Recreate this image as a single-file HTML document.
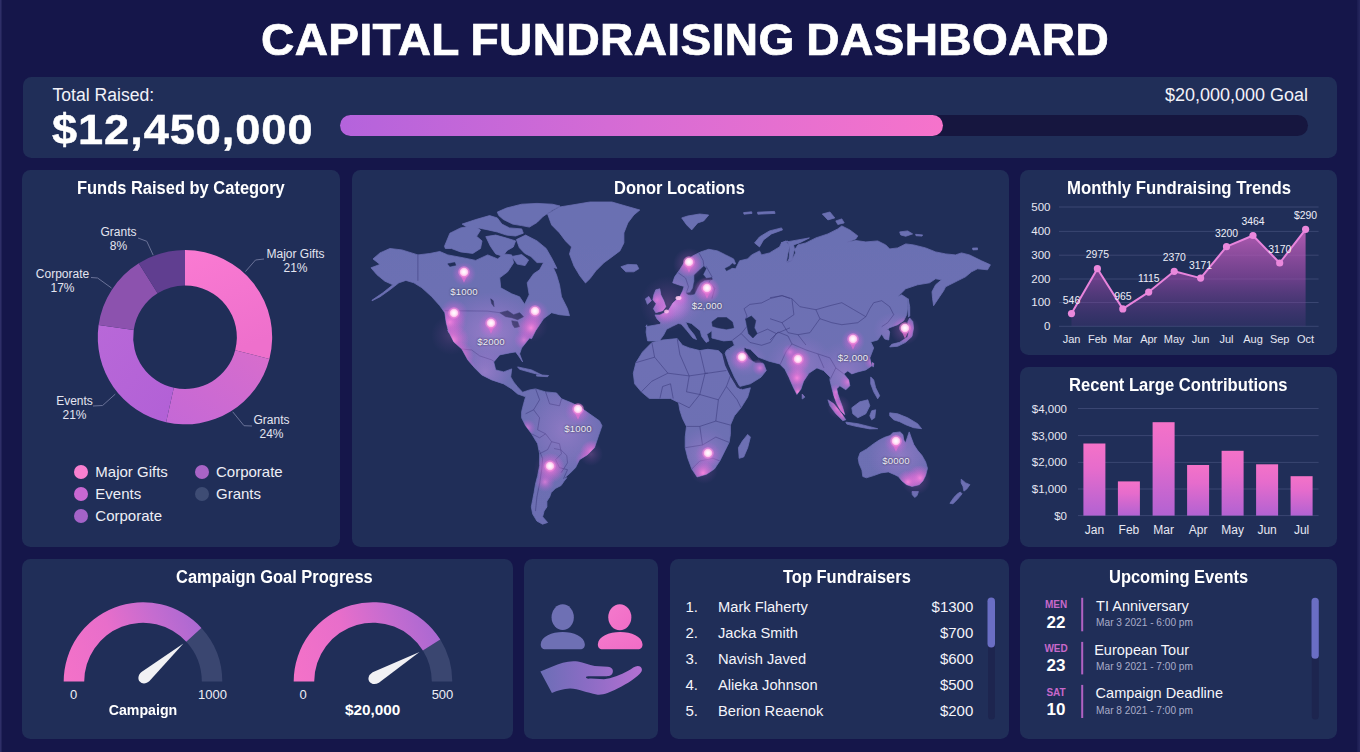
<!DOCTYPE html>
<html><head><meta charset="utf-8">
<style>
*{margin:0;padding:0;box-sizing:border-box}
html,body{width:1360px;height:752px;overflow:hidden;background:#15164a;font-family:"Liberation Sans",sans-serif;color:#fff}
.p{position:absolute;background:#202e58;border-radius:8.5px}
.t{position:absolute;white-space:nowrap;line-height:1}
.h{position:absolute;white-space:nowrap;line-height:1;font-weight:bold;font-size:18px;color:#fff;transform-origin:0 0;transform:scaleX(.915)}
svg{position:absolute;left:0;top:0;overflow:visible}
</style></head><body>
<div id="edgeL" style="position:absolute;left:0;top:0;width:2px;height:752px;background:linear-gradient(90deg,#34346e,#1c1d52)"></div><div style="position:absolute;right:0;top:0;width:3px;height:752px;background:linear-gradient(90deg,#1a1b50,#26275e)"></div>
<!-- title -->
<div class="t" id="title" style="left:260.5px;top:17.5px;font-size:44px;font-weight:bold;letter-spacing:0.36px;word-spacing:-1.5px;-webkit-text-stroke:0.7px #fff;transform-origin:0 0;transform:scaleX(1.047)">CAPITAL FUNDRAISING DASHBOARD</div>

<!-- top bar -->
<div class="p" style="left:22.5px;top:77px;width:1314.5px;height:80.5px"></div>
<div class="t" style="left:52.5px;top:86.5px;font-size:17.6px;color:#f2f2f8">Total Raised:</div>
<div class="t" id="big" style="left:51.5px;top:108px;font-size:43px;font-weight:bold;letter-spacing:0.9px;-webkit-text-stroke:0.5px #fff;transform-origin:0 0;transform:scaleX(1.05)">$12,450,000</div>
<div class="t" id="goal" style="right:52px;top:86px;font-size:18px;color:#f2f2f8">$20,000,000 Goal</div>
<div style="position:absolute;left:340px;top:115px;width:968px;height:21px;border-radius:11px;background:#16163f"></div>
<div style="position:absolute;left:340px;top:115px;width:603px;height:21px;border-radius:11px;background:linear-gradient(90deg,#b463dc 0%,#d86cd4 50%,#f673cb 100%)"></div>

<!-- panels -->
<div class="p" id="p-funds" style="left:22px;top:170px;width:318px;height:377px"></div>
<div class="p" id="p-map" style="left:352px;top:170px;width:657px;height:377px"></div>
<div class="p" id="p-month" style="left:1020px;top:170px;width:317px;height:185px"></div>
<div class="p" id="p-recent" style="left:1020px;top:367px;width:317px;height:180px"></div>
<div class="p" id="p-camp" style="left:22px;top:559px;width:491px;height:180px"></div>
<div class="p" id="p-icon" style="left:524px;top:559px;width:134px;height:180px"></div>
<div class="p" id="p-top" style="left:670px;top:559px;width:339px;height:180px"></div>
<div class="p" id="p-up" style="left:1020px;top:559px;width:317px;height:180px"></div>

<!-- SECTION:FUNDS -->
<svg width="1360" height="752" viewBox="0 0 1360 752">
<defs><linearGradient id="gMaj" x1="0" y1="0" x2="0.3" y2="1"><stop offset="0" stop-color="#fa7ad2"/><stop offset="1" stop-color="#ee70cc"/></linearGradient><linearGradient id="gGr" x1="1" y1="0" x2="0" y2="1"><stop offset="0" stop-color="#d86dcc"/><stop offset="1" stop-color="#c468d6"/></linearGradient><linearGradient id="gEv" x1="0" y1="0" x2="1" y2="1"><stop offset="0" stop-color="#b868d8"/><stop offset="1" stop-color="#b260d6"/></linearGradient></defs>
<path d="M185.0 250.0A87.2 87.2 0 0 1 269.4 359.0L235.2 350.2A51.8 51.8 0 0 0 185.0 285.4Z" fill="url(#gMaj)"/>
<path d="M269.4 359.0A87.2 87.2 0 0 1 166.1 422.3L173.8 387.8A51.8 51.8 0 0 0 235.2 350.2Z" fill="url(#gGr)"/>
<path d="M166.1 422.3A87.2 87.2 0 0 1 98.6 325.1L133.7 330.0A51.8 51.8 0 0 0 173.8 387.8Z" fill="url(#gEv)"/>
<path d="M98.6 325.1A87.2 87.2 0 0 1 138.8 263.3L157.6 293.3A51.8 51.8 0 0 0 133.7 330.0Z" fill="#8c52ae"/>
<path d="M138.8 263.3A87.2 87.2 0 0 1 185.0 250.0L185.0 285.4A51.8 51.8 0 0 0 157.6 293.3Z" fill="#603e90"/>
<path d="M245.4 271.6L255.5 260.0L264.0 259.0" fill="none" stroke="#6a7298" stroke-width="1"/>
<path d="M232.7 411.8L244.0 425.7L252.0 426.0" fill="none" stroke="#6a7298" stroke-width="1"/>
<path d="M115.3 394.1L102.6 405.5L93.0 406.0" fill="none" stroke="#6a7298" stroke-width="1"/>
<path d="M111.5 288.0L97.6 278.0L91.0 277.5" fill="none" stroke="#6a7298" stroke-width="1"/>
<path d="M153.2 255.2L146.8 241.3L138.0 238.0" fill="none" stroke="#6a7298" stroke-width="1"/>
</svg>
<style>.lb{font-size:12px;color:#e4e5f0;text-align:center}.lg{font-size:15px;color:#eeeef6}.dot{position:absolute;width:14px;height:14px;border-radius:50%}</style>
<div class="t lb" style="left:78.5px;top:226px;width:80px">Grants</div><div class="t lb" style="left:78.5px;top:240px;width:80px">8%</div>
<div class="t lb" style="left:255.5px;top:248px;width:80px">Major Gifts</div><div class="t lb" style="left:255.5px;top:262px;width:80px">21%</div>
<div class="t lb" style="left:22.5px;top:268px;width:80px">Corporate</div><div class="t lb" style="left:22.5px;top:282px;width:80px">17%</div>
<div class="t lb" style="left:34.5px;top:394.5px;width:80px">Events</div><div class="t lb" style="left:34.5px;top:408.5px;width:80px">21%</div>
<div class="t lb" style="left:231.5px;top:414px;width:80px">Grants</div><div class="t lb" style="left:231.5px;top:428px;width:80px">24%</div>
<div class="dot" style="left:74.2px;top:464.8px;background:#f880d0"></div><div class="t lg" style="left:95.3px;top:463.8px">Major Gifts</div>
<div class="dot" style="left:74.2px;top:486.8px;background:#c868d2"></div><div class="t lg" style="left:95.3px;top:485.8px">Events</div>
<div class="dot" style="left:74.2px;top:508.8px;background:#a463c8"></div><div class="t lg" style="left:95.3px;top:507.8px">Corporate</div>
<div class="dot" style="left:194.9px;top:464.8px;background:#a864c6"></div><div class="t lg" style="left:216px;top:463.8px">Corporate</div>
<div class="dot" style="left:194.9px;top:486.8px;background:#3e4c74"></div><div class="t lg" style="left:216px;top:485.8px">Grants</div>
<div class="h" id="h-funds" style="left:77px;top:179px">Funds Raised by Category</div>
<!-- /SECTION:FUNDS -->
<!-- SECTION:MAP -->
<svg width="1360" height="752" viewBox="0 0 1360 752">
<defs>
<radialGradient id="glow"><stop offset="0" stop-color="#ff8ae0" stop-opacity=".95"/><stop offset=".35" stop-color="#f070d8" stop-opacity=".6"/><stop offset="1" stop-color="#e060d8" stop-opacity="0"/></radialGradient>
<radialGradient id="glow2"><stop offset="0" stop-color="#f080e0" stop-opacity=".75"/><stop offset=".5" stop-color="#d868d8" stop-opacity=".35"/><stop offset="1" stop-color="#c060d8" stop-opacity="0"/></radialGradient>
<radialGradient id="tint"><stop offset="0" stop-color="#d890e8" stop-opacity=".9"/><stop offset=".6" stop-color="#c080e0" stop-opacity=".45"/><stop offset="1" stop-color="#b070d8" stop-opacity="0"/></radialGradient>
<radialGradient id="pin"><stop offset="0" stop-color="#fff"/><stop offset=".55" stop-color="#ffe6f8"/><stop offset="1" stop-color="#ffb0e8"/></radialGradient>
<linearGradient id="landg" x1="0" y1="0" x2="0" y2="1"><stop offset="0" stop-color="#6a70b2"/><stop offset=".5" stop-color="#6e70b4"/><stop offset="1" stop-color="#6c6eb2"/></linearGradient>
<clipPath id="landclip"><path d="M372.0 300.2L382.9 292.8L392.9 284.8L384.9 281.2L377.0 274.8L371.0 267.8L380.0 264.4L373.0 258.9L380.0 252.9L389.9 248.5L401.9 249.9L417.9 254.9L429.8 253.5L439.8 251.5L447.8 254.9L463.8 257.9L475.7 260.4L487.7 254.9L497.7 258.9L503.7 253.9L511.7 254.9L513.6 262.8L507.7 271.8L499.7 277.8L500.7 287.8L511.7 293.8L519.6 296.8L524.6 304.3L529.2 294.8L527.2 282.8L533.6 273.8L539.6 269.8L544.6 260.8L551.6 263.8L556.5 274.8L559.5 284.8L561.5 296.8L567.5 308.7L569.5 315.7L559.5 314.7L551.6 312.7L543.6 318.7L539.6 324.7L535.6 330.7L531.6 338.7L529.6 338.0L521.6 348.0L519.6 353.9L522.6 361.9L518.6 355.9L515.6 351.9L509.7 352.9L499.7 354.9L493.7 361.9L495.7 369.9L503.7 371.9L511.7 368.9L510.7 376.9L513.6 381.9L517.6 386.9L522.6 392.3L529.6 389.9L535.6 388.9L545.6 391.9L556.5 392.9L561.5 398.8L571.5 402.8L579.5 406.8L589.5 413.8L599.4 420.8L602.0 425.8L598.5 435.8L594.5 447.7L587.5 454.7L579.5 459.7L575.5 467.7L569.5 473.7L563.5 478.7L566.8 477.7L564.0 481.3L561.1 485.5L555.4 488.4L551.2 492.6L549.7 496.9L546.9 501.2L546.9 506.9L544.1 511.1L542.6 516.8L547.6 522.5L542.6 524.2L536.9 521.1L532.7 514.0L531.3 506.9L532.7 499.7L534.1 492.6L535.5 484.1L537.7 475.6L539.6 465.7L539.6 453.7L537.6 443.7L531.6 433.8L525.6 425.8L521.6 417.8L521.6 411.8L523.6 403.8L525.6 396.8L517.6 393.9L511.7 388.9L503.7 383.9L491.7 379.9L481.7 374.9L474.7 367.9L467.8 359.9L461.8 349.0L453.8 342.0L447.8 330.0L448.8 332.7L446.2 322.7L444.8 312.7L439.8 305.7L431.8 296.8L421.9 287.8L413.9 282.8L405.9 280.4L398.9 282.8L389.9 289.8L380.0 296.8L372.0 300.8Z M444.5 246.2L449.9 233.2L460.6 227.9L474.3 225.6L480.5 230.2L476.6 236.3L482.0 240.9L480.5 248.5L472.8 253.4L460.6 251.9L451.4 248.5L445.3 248.5Z M462.1 224.1L475.9 219.5L489.6 215.6L497.3 217.9L501.9 224.1L509.5 227.9L521.7 228.9L523.3 233.2L515.6 236.0L506.5 235.1L497.3 232.0L488.1 229.9L478.9 228.0L468.2 227.7Z M497.3 212.1L506.5 208.0L521.7 204.2L537.0 203.4L552.3 204.2L560.0 206.0L552.3 210.3L543.1 216.4L537.0 222.5L529.4 227.1L521.7 225.6L512.6 224.1L503.4 219.5L498.8 215.6Z M485.8 236.6L495.7 235.1L506.5 238.1L515.6 240.9L513.3 247.0L507.2 250.4L502.6 256.2L495.7 253.9L490.4 246.2Z M516.4 239.6L525.6 235.1L537.0 240.9L546.2 248.5L552.3 259.2L556.9 268.4L550.8 266.9L543.1 262.6L537.0 262.6L530.9 256.5L524.8 253.4L519.4 247.8Z M511.8 256.5L521.7 254.6L528.6 260.0L525.1 265.6L517.2 264.1Z M547.6 214.0L559.5 207.0L572.0 205.0L589.9 202.0L611.9 202.0L625.8 206.0L639.8 210.0L633.8 215.0L627.8 222.9L623.9 232.9L623.9 242.9L619.9 250.9L611.9 256.9L603.9 262.8L595.9 270.8L589.9 278.8L585.5 283.0L580.0 276.0L574.0 266.0L569.5 254.0L571.5 246.9L565.5 240.9L559.5 232.9L551.6 224.9Z M620.9 266.8L627.8 264.4L636.8 264.8L638.8 268.8L633.8 271.8L625.8 271.8Z M681.7 217.9L687.7 216.0L699.7 214.0L708.7 215.0L703.7 220.9L697.7 222.9L691.7 229.9L686.7 224.9Z M754.6 242.9L759.5 236.9L769.5 230.9L781.5 227.9L782.5 229.9L771.5 233.9L763.5 239.9L759.5 246.9Z M517.6 366.9L531.6 369.9L541.6 374.9L533.6 373.3L519.6 369.3Z M536.6 374.7L548.6 375.5L547.6 376.7L536.6 376.1Z M646.8 324.8L646.1 332.1L647.6 340.9L659.3 340.9L663.6 335.1L666.6 329.2L672.4 326.3L678.3 323.4L681.2 324.1L687.0 330.7L692.9 338.0L696.5 339.5L694.4 335.1L688.5 327.8L685.6 321.9L691.4 323.4L700.2 330.7L701.7 336.5L706.1 342.4L709.0 340.9L706.8 334.3L711.9 330.7L711.9 338.0L723.6 340.9L732.4 340.2L734.4 345.3L726.4 350.6L725.1 353.3L729.1 365.2L734.4 377.2L739.7 386.5L750.4 383.8L761.0 377.2L766.3 370.5L763.7 363.9L758.3 359.9L753.0 361.2L747.7 354.6L743.7 347.9L750.4 349.3L758.3 357.2L769.0 361.2L779.6 363.9L784.9 369.2L788.9 377.2L792.9 386.5L796.9 394.5L800.9 389.2L803.6 381.2L808.9 373.2L816.9 367.9L823.5 370.5L830.2 377.2L829.9 379.9L831.8 387.8L833.8 395.8L836.8 403.8L840.8 410.8L844.8 414.8L842.8 407.8L839.8 399.8L837.8 393.8L836.8 388.8L839.8 385.8L845.8 389.8L849.8 385.8L848.8 379.9L843.8 373.9L847.8 370.9L851.8 373.9L857.8 371.9L865.8 369.9L871.7 365.9L869.8 357.9L873.7 347.9L870.7 341.9L877.7 340.0L881.7 334.0L884.7 339.0L888.7 340.0L889.7 332.0L886.7 327.0L885.7 330.7L889.7 327.7L897.7 324.7L903.7 320.7L906.7 314.7L907.7 306.7L907.7 298.7L901.7 294.8L897.7 296.7L905.7 288.8L917.6 284.8L929.6 282.8L935.6 278.8L941.6 279.8L935.6 284.8L932.0 291.8L932.6 298.7L933.6 305.7L935.6 302.7L939.6 296.7L943.6 290.8L945.6 286.8L949.6 284.8L957.5 280.8L965.5 276.8L971.5 271.8L977.5 268.8L987.5 269.8L990.4 264.8L981.5 260.8L969.5 254.9L961.5 252.9L955.5 254.9L945.6 253.9L935.6 251.9L925.6 247.9L913.6 244.9L905.7 243.9L897.7 247.9L889.7 248.9L885.7 244.9L877.7 240.9L865.8 241.9L855.8 240.5L846.8 242.3L855.8 238.9L857.8 235.9L849.8 229.9L841.8 225.9L837.8 228.9L827.9 233.9L815.9 237.9L805.9 242.9L797.9 244.9L793.9 250.9L791.9 260.8L787.0 262.8L789.0 258.8L790.0 246.9L786.0 240.9L781.0 242.9L809.4 237.9L799.4 242.9L793.5 244.9L795.5 252.9L791.5 260.8L786.5 261.8L787.5 254.9L789.5 246.9L787.5 240.9L781.5 242.9L779.5 246.9L769.5 252.9L761.5 254.9L759.5 250.9L751.6 254.9L747.6 258.9L739.6 260.8L735.6 268.8L728.6 267.8L735.6 263.8L733.6 258.9L725.6 254.9L717.6 250.9L708.7 249.3L700.7 251.9L692.7 255.9L684.7 261.8L679.7 269.8L674.7 276.8L672.7 282.8L679.7 285.2L684.1 286.4L682.7 290.8L679.7 296.8L672.9 303.0L668.0 310.9L660.0 314.9L655.0 314.9L657.0 318.9L661.0 322.9L659.8 324.3L645.8 326.7Z M653.8 294.8L655.8 289.8L659.8 288.8L660.8 294.8L663.8 300.8L665.8 306.7L662.8 310.7L655.8 312.7L653.4 308.7L656.2 303.7L652.8 299.8Z M645.4 298.8L648.8 296.4L651.4 300.8L647.4 304.3Z M651.9 342.6L662.6 340.0L677.2 338.6L682.5 345.3L689.2 347.9L699.8 350.6L707.8 349.3L718.4 350.6L722.4 354.6L725.1 365.2L730.4 375.9L737.1 386.5L742.4 389.7L750.4 387.8L747.7 397.1L741.0 407.8L734.4 415.8L730.4 425.1L730.4 434.4L729.1 442.4L725.1 450.4L719.8 461.0L714.4 469.0L706.5 474.3L697.1 477.0L691.8 469.0L687.8 458.3L685.2 447.7L685.2 437.1L686.5 426.4L682.5 418.4L679.9 410.4L678.5 402.5L670.5 398.5L659.9 398.5L649.3 398.5L641.3 391.8L634.6 383.8L633.3 373.2L636.0 362.6L642.6 351.9Z M747.7 434.4L750.4 437.1L747.7 447.7L743.7 457.0L739.2 458.3L738.4 447.7L742.4 441.0Z M802.2 394.0L804.9 397.1L802.2 399.0Z M851.8 407.8L859.8 401.8L867.8 399.8L869.8 405.8L865.8 413.8L857.8 417.8L852.8 413.8Z M827.9 399.8L833.8 403.8L841.8 413.8L845.8 419.8L842.8 420.7L835.8 413.8L829.9 405.8Z M845.8 422.1L857.8 423.7L869.8 426.7L877.7 428.7L869.8 428.9L855.8 426.3L846.8 424.1Z M871.7 410.8L875.7 409.8L874.7 417.8L871.7 419.8L869.8 415.8Z M870.7 376.9L873.7 379.9L875.7 387.8L879.7 395.8L877.7 398.8L873.7 391.8L870.7 383.8Z M889.7 412.8L897.7 413.8L907.7 417.8L917.6 423.7L921.6 428.7L913.6 427.7L905.7 424.7L899.7 421.7L893.7 419.8L889.7 415.8Z M872.3 362.5L873.9 363.5L873.3 367.1L872.1 365.5Z M913.6 328.0L912.8 321.6L909.7 318.0L907.7 322.0L909.7 329.0L907.7 337.0L899.7 342.3L891.7 344.3L889.7 346.9L897.7 346.3L905.7 342.3L912.0 336.4Z M908.1 298.7L909.7 306.7L909.7 315.7L908.5 317.1L908.1 308.7Z M858.2 458.3L860.1 452.8L866.4 449.2L873.7 443.7L879.2 440.1L884.7 437.3L890.1 435.5L892.9 432.8L900.1 431.9L902.9 434.6L903.8 440.1L905.6 442.8L907.4 437.3L909.2 431.9L911.1 437.3L913.8 444.6L917.4 450.1L922.0 455.5L925.6 461.9L927.5 468.3L925.6 475.6L922.9 481.1L919.3 484.7L912.0 486.5L906.5 484.7L902.0 481.1L898.3 476.5L894.7 474.7L888.3 471.9L881.0 472.9L873.7 475.6L866.4 477.8L862.8 476.5L861.9 470.1L859.1 463.7Z M912.0 491.6L918.4 491.6L917.1 495.6L914.7 497.4L912.3 494.7Z M961.2 479.2L965.7 482.9L969.9 484.7L966.6 489.2L963.9 491.1L963.0 486.5L961.2 482.9Z M960.3 492.0L962.1 493.8L957.5 499.3L953.0 503.8L949.9 503.3L953.9 497.4L957.5 493.8Z M822.3 214.0L829.9 212.0L834.8 217.9L827.9 219.9Z M835.8 220.9L841.8 218.9L844.2 222.9L837.8 224.5Z M899.7 231.9L907.7 230.9L912.6 233.9L905.7 236.3L900.7 234.9Z M915.6 234.3L922.6 234.9L922.0 236.1L916.0 235.7Z M972.5 248.1L977.5 247.9L977.5 249.7L972.9 249.9Z M743.6 212.6L751.6 211.8L752.0 213.4L744.0 214.2Z M757.5 212.2L774.5 211.4L775.1 213.4L757.9 214.2Z"/></clipPath>
<filter id="soft" x="-5%" y="-5%" width="110%" height="110%"><feGaussianBlur stdDeviation="0.5"/></filter>
</defs>
<path d="M372.0 300.2L382.9 292.8L392.9 284.8L384.9 281.2L377.0 274.8L371.0 267.8L380.0 264.4L373.0 258.9L380.0 252.9L389.9 248.5L401.9 249.9L417.9 254.9L429.8 253.5L439.8 251.5L447.8 254.9L463.8 257.9L475.7 260.4L487.7 254.9L497.7 258.9L503.7 253.9L511.7 254.9L513.6 262.8L507.7 271.8L499.7 277.8L500.7 287.8L511.7 293.8L519.6 296.8L524.6 304.3L529.2 294.8L527.2 282.8L533.6 273.8L539.6 269.8L544.6 260.8L551.6 263.8L556.5 274.8L559.5 284.8L561.5 296.8L567.5 308.7L569.5 315.7L559.5 314.7L551.6 312.7L543.6 318.7L539.6 324.7L535.6 330.7L531.6 338.7L529.6 338.0L521.6 348.0L519.6 353.9L522.6 361.9L518.6 355.9L515.6 351.9L509.7 352.9L499.7 354.9L493.7 361.9L495.7 369.9L503.7 371.9L511.7 368.9L510.7 376.9L513.6 381.9L517.6 386.9L522.6 392.3L529.6 389.9L535.6 388.9L545.6 391.9L556.5 392.9L561.5 398.8L571.5 402.8L579.5 406.8L589.5 413.8L599.4 420.8L602.0 425.8L598.5 435.8L594.5 447.7L587.5 454.7L579.5 459.7L575.5 467.7L569.5 473.7L563.5 478.7L566.8 477.7L564.0 481.3L561.1 485.5L555.4 488.4L551.2 492.6L549.7 496.9L546.9 501.2L546.9 506.9L544.1 511.1L542.6 516.8L547.6 522.5L542.6 524.2L536.9 521.1L532.7 514.0L531.3 506.9L532.7 499.7L534.1 492.6L535.5 484.1L537.7 475.6L539.6 465.7L539.6 453.7L537.6 443.7L531.6 433.8L525.6 425.8L521.6 417.8L521.6 411.8L523.6 403.8L525.6 396.8L517.6 393.9L511.7 388.9L503.7 383.9L491.7 379.9L481.7 374.9L474.7 367.9L467.8 359.9L461.8 349.0L453.8 342.0L447.8 330.0L448.8 332.7L446.2 322.7L444.8 312.7L439.8 305.7L431.8 296.8L421.9 287.8L413.9 282.8L405.9 280.4L398.9 282.8L389.9 289.8L380.0 296.8L372.0 300.8Z M444.5 246.2L449.9 233.2L460.6 227.9L474.3 225.6L480.5 230.2L476.6 236.3L482.0 240.9L480.5 248.5L472.8 253.4L460.6 251.9L451.4 248.5L445.3 248.5Z M462.1 224.1L475.9 219.5L489.6 215.6L497.3 217.9L501.9 224.1L509.5 227.9L521.7 228.9L523.3 233.2L515.6 236.0L506.5 235.1L497.3 232.0L488.1 229.9L478.9 228.0L468.2 227.7Z M497.3 212.1L506.5 208.0L521.7 204.2L537.0 203.4L552.3 204.2L560.0 206.0L552.3 210.3L543.1 216.4L537.0 222.5L529.4 227.1L521.7 225.6L512.6 224.1L503.4 219.5L498.8 215.6Z M485.8 236.6L495.7 235.1L506.5 238.1L515.6 240.9L513.3 247.0L507.2 250.4L502.6 256.2L495.7 253.9L490.4 246.2Z M516.4 239.6L525.6 235.1L537.0 240.9L546.2 248.5L552.3 259.2L556.9 268.4L550.8 266.9L543.1 262.6L537.0 262.6L530.9 256.5L524.8 253.4L519.4 247.8Z M511.8 256.5L521.7 254.6L528.6 260.0L525.1 265.6L517.2 264.1Z M547.6 214.0L559.5 207.0L572.0 205.0L589.9 202.0L611.9 202.0L625.8 206.0L639.8 210.0L633.8 215.0L627.8 222.9L623.9 232.9L623.9 242.9L619.9 250.9L611.9 256.9L603.9 262.8L595.9 270.8L589.9 278.8L585.5 283.0L580.0 276.0L574.0 266.0L569.5 254.0L571.5 246.9L565.5 240.9L559.5 232.9L551.6 224.9Z M620.9 266.8L627.8 264.4L636.8 264.8L638.8 268.8L633.8 271.8L625.8 271.8Z M681.7 217.9L687.7 216.0L699.7 214.0L708.7 215.0L703.7 220.9L697.7 222.9L691.7 229.9L686.7 224.9Z M754.6 242.9L759.5 236.9L769.5 230.9L781.5 227.9L782.5 229.9L771.5 233.9L763.5 239.9L759.5 246.9Z M517.6 366.9L531.6 369.9L541.6 374.9L533.6 373.3L519.6 369.3Z M536.6 374.7L548.6 375.5L547.6 376.7L536.6 376.1Z M646.8 324.8L646.1 332.1L647.6 340.9L659.3 340.9L663.6 335.1L666.6 329.2L672.4 326.3L678.3 323.4L681.2 324.1L687.0 330.7L692.9 338.0L696.5 339.5L694.4 335.1L688.5 327.8L685.6 321.9L691.4 323.4L700.2 330.7L701.7 336.5L706.1 342.4L709.0 340.9L706.8 334.3L711.9 330.7L711.9 338.0L723.6 340.9L732.4 340.2L734.4 345.3L726.4 350.6L725.1 353.3L729.1 365.2L734.4 377.2L739.7 386.5L750.4 383.8L761.0 377.2L766.3 370.5L763.7 363.9L758.3 359.9L753.0 361.2L747.7 354.6L743.7 347.9L750.4 349.3L758.3 357.2L769.0 361.2L779.6 363.9L784.9 369.2L788.9 377.2L792.9 386.5L796.9 394.5L800.9 389.2L803.6 381.2L808.9 373.2L816.9 367.9L823.5 370.5L830.2 377.2L829.9 379.9L831.8 387.8L833.8 395.8L836.8 403.8L840.8 410.8L844.8 414.8L842.8 407.8L839.8 399.8L837.8 393.8L836.8 388.8L839.8 385.8L845.8 389.8L849.8 385.8L848.8 379.9L843.8 373.9L847.8 370.9L851.8 373.9L857.8 371.9L865.8 369.9L871.7 365.9L869.8 357.9L873.7 347.9L870.7 341.9L877.7 340.0L881.7 334.0L884.7 339.0L888.7 340.0L889.7 332.0L886.7 327.0L885.7 330.7L889.7 327.7L897.7 324.7L903.7 320.7L906.7 314.7L907.7 306.7L907.7 298.7L901.7 294.8L897.7 296.7L905.7 288.8L917.6 284.8L929.6 282.8L935.6 278.8L941.6 279.8L935.6 284.8L932.0 291.8L932.6 298.7L933.6 305.7L935.6 302.7L939.6 296.7L943.6 290.8L945.6 286.8L949.6 284.8L957.5 280.8L965.5 276.8L971.5 271.8L977.5 268.8L987.5 269.8L990.4 264.8L981.5 260.8L969.5 254.9L961.5 252.9L955.5 254.9L945.6 253.9L935.6 251.9L925.6 247.9L913.6 244.9L905.7 243.9L897.7 247.9L889.7 248.9L885.7 244.9L877.7 240.9L865.8 241.9L855.8 240.5L846.8 242.3L855.8 238.9L857.8 235.9L849.8 229.9L841.8 225.9L837.8 228.9L827.9 233.9L815.9 237.9L805.9 242.9L797.9 244.9L793.9 250.9L791.9 260.8L787.0 262.8L789.0 258.8L790.0 246.9L786.0 240.9L781.0 242.9L809.4 237.9L799.4 242.9L793.5 244.9L795.5 252.9L791.5 260.8L786.5 261.8L787.5 254.9L789.5 246.9L787.5 240.9L781.5 242.9L779.5 246.9L769.5 252.9L761.5 254.9L759.5 250.9L751.6 254.9L747.6 258.9L739.6 260.8L735.6 268.8L728.6 267.8L735.6 263.8L733.6 258.9L725.6 254.9L717.6 250.9L708.7 249.3L700.7 251.9L692.7 255.9L684.7 261.8L679.7 269.8L674.7 276.8L672.7 282.8L679.7 285.2L684.1 286.4L682.7 290.8L679.7 296.8L672.9 303.0L668.0 310.9L660.0 314.9L655.0 314.9L657.0 318.9L661.0 322.9L659.8 324.3L645.8 326.7Z M653.8 294.8L655.8 289.8L659.8 288.8L660.8 294.8L663.8 300.8L665.8 306.7L662.8 310.7L655.8 312.7L653.4 308.7L656.2 303.7L652.8 299.8Z M645.4 298.8L648.8 296.4L651.4 300.8L647.4 304.3Z M651.9 342.6L662.6 340.0L677.2 338.6L682.5 345.3L689.2 347.9L699.8 350.6L707.8 349.3L718.4 350.6L722.4 354.6L725.1 365.2L730.4 375.9L737.1 386.5L742.4 389.7L750.4 387.8L747.7 397.1L741.0 407.8L734.4 415.8L730.4 425.1L730.4 434.4L729.1 442.4L725.1 450.4L719.8 461.0L714.4 469.0L706.5 474.3L697.1 477.0L691.8 469.0L687.8 458.3L685.2 447.7L685.2 437.1L686.5 426.4L682.5 418.4L679.9 410.4L678.5 402.5L670.5 398.5L659.9 398.5L649.3 398.5L641.3 391.8L634.6 383.8L633.3 373.2L636.0 362.6L642.6 351.9Z M747.7 434.4L750.4 437.1L747.7 447.7L743.7 457.0L739.2 458.3L738.4 447.7L742.4 441.0Z M802.2 394.0L804.9 397.1L802.2 399.0Z M851.8 407.8L859.8 401.8L867.8 399.8L869.8 405.8L865.8 413.8L857.8 417.8L852.8 413.8Z M827.9 399.8L833.8 403.8L841.8 413.8L845.8 419.8L842.8 420.7L835.8 413.8L829.9 405.8Z M845.8 422.1L857.8 423.7L869.8 426.7L877.7 428.7L869.8 428.9L855.8 426.3L846.8 424.1Z M871.7 410.8L875.7 409.8L874.7 417.8L871.7 419.8L869.8 415.8Z M870.7 376.9L873.7 379.9L875.7 387.8L879.7 395.8L877.7 398.8L873.7 391.8L870.7 383.8Z M889.7 412.8L897.7 413.8L907.7 417.8L917.6 423.7L921.6 428.7L913.6 427.7L905.7 424.7L899.7 421.7L893.7 419.8L889.7 415.8Z M872.3 362.5L873.9 363.5L873.3 367.1L872.1 365.5Z M913.6 328.0L912.8 321.6L909.7 318.0L907.7 322.0L909.7 329.0L907.7 337.0L899.7 342.3L891.7 344.3L889.7 346.9L897.7 346.3L905.7 342.3L912.0 336.4Z M908.1 298.7L909.7 306.7L909.7 315.7L908.5 317.1L908.1 308.7Z M858.2 458.3L860.1 452.8L866.4 449.2L873.7 443.7L879.2 440.1L884.7 437.3L890.1 435.5L892.9 432.8L900.1 431.9L902.9 434.6L903.8 440.1L905.6 442.8L907.4 437.3L909.2 431.9L911.1 437.3L913.8 444.6L917.4 450.1L922.0 455.5L925.6 461.9L927.5 468.3L925.6 475.6L922.9 481.1L919.3 484.7L912.0 486.5L906.5 484.7L902.0 481.1L898.3 476.5L894.7 474.7L888.3 471.9L881.0 472.9L873.7 475.6L866.4 477.8L862.8 476.5L861.9 470.1L859.1 463.7Z M912.0 491.6L918.4 491.6L917.1 495.6L914.7 497.4L912.3 494.7Z M961.2 479.2L965.7 482.9L969.9 484.7L966.6 489.2L963.9 491.1L963.0 486.5L961.2 482.9Z M960.3 492.0L962.1 493.8L957.5 499.3L953.0 503.8L949.9 503.3L953.9 497.4L957.5 493.8Z M822.3 214.0L829.9 212.0L834.8 217.9L827.9 219.9Z M835.8 220.9L841.8 218.9L844.2 222.9L837.8 224.5Z M899.7 231.9L907.7 230.9L912.6 233.9L905.7 236.3L900.7 234.9Z M915.6 234.3L922.6 234.9L922.0 236.1L916.0 235.7Z M972.5 248.1L977.5 247.9L977.5 249.7L972.9 249.9Z M743.6 212.6L751.6 211.8L752.0 213.4L744.0 214.2Z M757.5 212.2L774.5 211.4L775.1 213.4L757.9 214.2Z" fill="url(#landg)" stroke="#6b6fb2" stroke-width="0.8" stroke-linejoin="round" filter="url(#soft)"/>
<path d="M703.9 266.3L706.1 268.5L703.1 274.4L706.1 278.3L711.9 277.7L712.2 279.5L704.6 280.2L700.2 283.1L697.3 288.3L694.4 294.1L690.7 294.8L687.8 294.4L686.3 292.9L690.0 292.7L692.9 288.3L694.4 281.0L694.4 275.1L698.7 270.7Z M711.9 321.9L717.8 317.5L726.5 317.5L732.4 321.9L733.8 327.8L726.5 329.2L717.8 327.8L712.6 326.3Z M745.5 319.0L751.4 316.1L755.8 320.4L754.3 327.8L757.2 333.6L752.9 338.0L748.5 333.6L747.0 326.3Z M745.0 347.9L750.4 353.3L758.3 359.4L762.3 362.6L755.7 362.6L749.0 358.6L744.5 353.3Z M725.1 268.5L729.5 266.3L732.4 263.4L734.6 264.9L730.9 268.5L726.5 270.7Z M499.7 312.7L507.7 310.7L513.6 314.7L519.6 312.7L523.6 316.7L517.6 319.7L511.7 317.7L505.7 316.7Z M511.7 320.7L517.6 321.7L519.6 326.7L514.6 327.7L512.6 324.7Z M447.8 263.8L454.8 262.4L455.8 265.2L449.8 266.4Z M490.7 298.8L493.3 300.8L494.1 306.7L491.7 303.7Z" fill="#202e58" stroke="#202e58" stroke-width="0.5" stroke-linejoin="round" filter="url(#soft)"/>
<path d="M723.2 354.1L725.9 364.7L731.2 375.9L737.6 386.5L741.0 388.6" fill="none" stroke="#2a3262" stroke-width="1.8"/>
<g clip-path="url(#landclip)"><path d="M417.9 254.9L417.9 280.8 M444.8 310.7L487.7 311.1L499.7 312.7 M461.8 349.0L471.7 350.0L479.7 355.9L491.7 359.9L497.7 363.9 M535.6 388.9L539.6 399.8L533.6 409.8L525.6 413.8 M545.6 391.9L549.6 403.8L559.5 405.8L561.5 398.8 M533.6 409.8L539.6 417.8L537.6 429.8L545.6 433.8L551.6 441.7L559.5 443.7L561.5 453.7L555.6 459.7L559.5 467.7L567.5 469.7 M531.6 433.8L539.6 437.8L545.6 433.8 M539.6 453.7L547.6 449.7L551.6 441.7 M567.5 469.7L563.5 478.7 M539.1 450.0L542.6 458.5L541.9 468.4L539.8 482.7L536.9 496.9L535.5 511.1 M554.0 448.5L561.1 450.0L566.8 455.6L567.5 462.8L564.0 468.4L561.1 472.7 M651.9 342.6L654.6 357.2L667.9 373.2L689.2 375.9L707.8 373.2 M677.2 338.6L679.9 354.6L689.2 375.9 M699.8 350.6L705.1 373.2L707.8 373.2L726.4 370.5 M636.0 362.6L654.6 357.2 M641.3 391.8L651.9 381.2L667.9 373.2 M659.9 398.5L662.6 386.5L670.5 383.8L673.2 398.5 M689.2 375.9L686.5 391.8L699.8 394.5L705.1 373.2 M678.5 402.5L689.2 407.8L699.8 394.5L718.4 399.8L726.4 386.5L730.4 375.9 M718.4 399.8L715.8 421.1L699.8 426.4L686.5 426.4 M715.8 421.1L730.4 425.1 M726.4 386.5L737.1 399.8L741.0 407.8 M685.2 447.7L702.5 445.0L715.8 437.1L729.1 442.4 M699.8 426.4L702.5 445.0 M691.8 469.0L699.8 461.0L713.1 458.3L719.8 461.0 M770.0 297.7L782.0 295.7L791.9 298.7L799.9 306.7L815.9 309.7L819.9 318.7L831.8 322.7L841.8 324.7L857.8 322.7L865.8 316.7L869.8 308.7L873.7 302.7L881.7 300.7L889.7 306.7L893.7 314.7L887.7 322.7L881.7 326.7 M815.9 309.7L829.9 305.7L841.8 302.7L853.8 309.7L865.8 316.7 M791.9 298.7L793.9 314.7L782.0 322.7L788.0 332.7L797.9 334.7L805.9 345.0 M770.0 318.7L782.0 322.7 M797.9 334.7L809.9 332.7L819.9 318.7 M770.0 340.0L778.0 332.0L788.0 336.0L791.9 343.9L786.0 351.9L780.0 364.9 M791.9 343.9L805.9 349.9L817.9 353.9L823.9 367.9 M817.9 353.9L829.9 357.9L835.8 367.9L829.9 379.9 M835.8 367.9L843.8 373.9 M732.4 340.2L741.2 333.6L747.0 326.3 M741.2 333.6L749.9 342.4L761.6 345.3L770.4 342.4L776.3 333.6L790.0 327.8 M757.2 333.6L767.5 329.2L776.3 333.6 M723.6 340.9L729.5 350.0 M744.1 308.7L749.9 304.4L761.6 302.9L770.4 298.5L782.1 295.6L790.0 298.5 M744.1 308.7L747.0 316.1L745.5 319.0 M706.1 266.3L711.9 276.6L709.0 282.4L714.8 288.3L711.9 298.5 M698.7 252.4L703.1 260.5L703.9 266.3 M678.3 272.9L685.6 278.0L688.5 286.8L686.3 292.9" fill="none" stroke="#3f3f80" stroke-width="0.7" opacity=".85"/></g>
<g clip-path="url(#landclip)">
<ellipse cx="492" cy="332" rx="52" ry="40" fill="url(#tint)" opacity="0.45"/>
<ellipse cx="485" cy="372" rx="26" ry="22" fill="url(#tint)" opacity="0.4"/>
<ellipse cx="565" cy="430" rx="40" ry="45" fill="url(#tint)" opacity="0.35"/>
<ellipse cx="672" cy="300" rx="34" ry="30" fill="url(#tint)" opacity="0.35"/>
<ellipse cx="800" cy="365" rx="34" ry="30" fill="url(#tint)" opacity="0.35"/>
<ellipse cx="845" cy="375" rx="30" ry="34" fill="url(#tint)" opacity="0.35"/>
<ellipse cx="705" cy="455" rx="26" ry="28" fill="url(#tint)" opacity="0.35"/>
<ellipse cx="900" cy="455" rx="32" ry="30" fill="url(#tint)" opacity="0.35"/>
<ellipse cx="745" cy="360" rx="22" ry="16" fill="url(#tint)" opacity="0.3"/>
<ellipse cx="895" cy="330" rx="22" ry="18" fill="url(#tint)" opacity="0.3"/>
<circle cx="450" cy="322" r="16" fill="url(#glow)"/>
<circle cx="453" cy="340" r="16" fill="url(#glow)"/>
<circle cx="460" cy="356" r="14" fill="url(#glow)"/>
<circle cx="466" cy="368" r="10" fill="url(#glow2)"/>
<circle cx="454" cy="313" r="14" fill="url(#glow2)"/>
<circle cx="535" cy="314" r="14" fill="url(#glow2)"/>
<circle cx="531" cy="328" r="14" fill="url(#glow)"/>
<circle cx="524" cy="340" r="10" fill="url(#glow2)"/>
<circle cx="491" cy="325" r="13" fill="url(#glow2)"/>
<circle cx="464" cy="274" r="12" fill="url(#glow2)"/>
<circle cx="578" cy="411" r="13" fill="url(#glow2)"/>
<circle cx="550" cy="468" r="15" fill="url(#glow)"/>
<circle cx="545" cy="482" r="10" fill="url(#glow2)"/>
<circle cx="592" cy="452" r="12" fill="url(#glow)"/>
<circle cx="585" cy="460" r="10" fill="url(#glow2)"/>
<circle cx="527" cy="428" r="9" fill="url(#glow2)"/>
<circle cx="689" cy="264" r="13" fill="url(#glow)"/>
<circle cx="707" cy="290" r="13" fill="url(#glow)"/>
<circle cx="672" cy="303" r="20" fill="url(#tint)"/>
<circle cx="664" cy="312" r="13" fill="url(#glow2)"/>
<circle cx="680" cy="298" r="9" fill="url(#glow2)"/>
<circle cx="657" cy="300" r="10" fill="url(#glow2)"/>
<circle cx="742" cy="359" r="12" fill="url(#glow2)"/>
<circle cx="798" cy="360" r="13" fill="url(#glow)"/>
<circle cx="797" cy="378" r="12" fill="url(#glow)"/>
<circle cx="798" cy="392" r="8" fill="url(#glow)"/>
<circle cx="853" cy="341" r="12" fill="url(#glow2)"/>
<circle cx="905" cy="330" r="13" fill="url(#glow)"/>
<circle cx="838" cy="408" r="10" fill="url(#glow)"/>
<circle cx="843" cy="414" r="8" fill="url(#glow)"/>
<circle cx="834" cy="398" r="8" fill="url(#glow)"/>
<circle cx="848" cy="382" r="9" fill="url(#glow2)"/>
<circle cx="836" cy="392" r="8" fill="url(#glow2)"/>
<circle cx="760" cy="368" r="8" fill="url(#glow2)"/>
<circle cx="790" cy="352" r="8" fill="url(#glow2)"/>
<circle cx="708" cy="455" r="13" fill="url(#glow2)"/>
<circle cx="703" cy="473" r="12" fill="url(#glow)"/>
<circle cx="896" cy="443" r="12" fill="url(#glow2)"/>
<circle cx="920" cy="478" r="13" fill="url(#glow)"/>
<circle cx="908" cy="482" r="12" fill="url(#glow)"/>
<circle cx="872" cy="362" r="8" fill="url(#glow2)"/>
</g>
<circle cx="451" cy="335" r="20" fill="url(#glow2)" opacity="0.22"/>
<circle cx="532" cy="326" r="16" fill="url(#glow2)" opacity="0.22"/>
<circle cx="550" cy="468" r="16" fill="url(#glow2)" opacity="0.3"/>
<circle cx="591" cy="454" r="12" fill="url(#glow2)" opacity="0.3"/>
<circle cx="689" cy="264" r="16" fill="url(#glow2)" opacity="0.45"/>
<circle cx="707" cy="290" r="14" fill="url(#glow2)" opacity="0.35"/>
<circle cx="668" cy="304" r="28" fill="url(#glow2)" opacity="0.3"/>
<circle cx="742" cy="359" r="10" fill="url(#glow2)" opacity="0.2"/>
<circle cx="798" cy="372" r="14" fill="url(#glow2)" opacity="0.3"/>
<circle cx="905" cy="330" r="15" fill="url(#glow2)" opacity="0.45"/>
<circle cx="839" cy="407" r="12" fill="url(#glow2)" opacity="0.35"/>
<circle cx="704" cy="470" r="14" fill="url(#glow2)" opacity="0.3"/>
<circle cx="916" cy="480" r="15" fill="url(#glow2)" opacity="0.4"/>
<circle cx="853" cy="341" r="10" fill="url(#glow2)" opacity="0.2"/>
<circle cx="578" cy="411" r="10" fill="url(#glow2)" opacity="0.2"/>
<circle cx="896" cy="443" r="10" fill="url(#glow2)" opacity="0.2"/>
<circle cx="464" cy="274" r="10" fill="url(#glow2)" opacity="0.2"/>
<path d="M460.1 274.0Q461.9 278.3 464 282.8Q466.1 278.3 467.9 274.0Z" fill="#e070d0" opacity=".75"/><circle cx="464" cy="272" r="5.8" fill="#f088dc" opacity=".6"/><circle cx="464" cy="272" r="4.3" fill="url(#pin)"/>
<circle cx="454" cy="313" r="5.8" fill="#f088dc" opacity=".6"/><circle cx="454" cy="313" r="4.3" fill="url(#pin)"/>
<path d="M487.1 325.0Q488.9 329.3 491 333.8Q493.1 329.3 494.9 325.0Z" fill="#e070d0" opacity=".75"/><circle cx="491" cy="323" r="5.8" fill="#f088dc" opacity=".6"/><circle cx="491" cy="323" r="4.3" fill="url(#pin)"/>
<circle cx="535" cy="311" r="5.8" fill="#f088dc" opacity=".6"/><circle cx="535" cy="311" r="4.3" fill="url(#pin)"/>
<path d="M574.1 411.0Q575.9 415.3 578 419.8Q580.1 415.3 581.9 411.0Z" fill="#e070d0" opacity=".75"/><circle cx="578" cy="409" r="5.8" fill="#f088dc" opacity=".6"/><circle cx="578" cy="409" r="4.3" fill="url(#pin)"/>
<circle cx="550" cy="466" r="5.8" fill="#f088dc" opacity=".6"/><circle cx="550" cy="466" r="4.3" fill="url(#pin)"/>
<path d="M685.1 264.0Q686.9 268.3 689 272.8Q691.1 268.3 692.9 264.0Z" fill="#e070d0" opacity=".75"/><circle cx="689" cy="262" r="5.8" fill="#f088dc" opacity=".6"/><circle cx="689" cy="262" r="4.3" fill="url(#pin)"/>
<path d="M703.1 290.0Q704.9 294.3 707 298.8Q709.1 294.3 710.9 290.0Z" fill="#e070d0" opacity=".75"/><circle cx="707" cy="288" r="5.8" fill="#f088dc" opacity=".6"/><circle cx="707" cy="288" r="4.3" fill="url(#pin)"/>
<circle cx="742" cy="357" r="5.8" fill="#f088dc" opacity=".6"/><circle cx="742" cy="357" r="4.3" fill="url(#pin)"/>
<circle cx="798" cy="359" r="5.8" fill="#f088dc" opacity=".6"/><circle cx="798" cy="359" r="4.3" fill="url(#pin)"/>
<path d="M849.1 341.0Q850.9 345.3 853 349.8Q855.1 345.3 856.9 341.0Z" fill="#e070d0" opacity=".75"/><circle cx="853" cy="339" r="5.8" fill="#f088dc" opacity=".6"/><circle cx="853" cy="339" r="4.3" fill="url(#pin)"/>
<path d="M901.1 330.0Q902.9 334.3 905 338.8Q907.1 334.3 908.9 330.0Z" fill="#e070d0" opacity=".75"/><circle cx="905" cy="328" r="5.8" fill="#f088dc" opacity=".6"/><circle cx="905" cy="328" r="4.3" fill="url(#pin)"/>
<circle cx="708" cy="453" r="5.8" fill="#f088dc" opacity=".6"/><circle cx="708" cy="453" r="4.3" fill="url(#pin)"/>
<path d="M892.1 443.0Q893.9 447.3 896 451.8Q898.1 447.3 899.9 443.0Z" fill="#e070d0" opacity=".75"/><circle cx="896" cy="441" r="5.8" fill="#f088dc" opacity=".6"/><circle cx="896" cy="441" r="4.3" fill="url(#pin)"/>
<ellipse cx="678.5" cy="298" rx="3" ry="2" fill="#ffc8f0" opacity=".9"/><ellipse cx="666.5" cy="311.5" rx="2.4" ry="2" fill="#ffc0f0" opacity=".85"/>
</svg>
<style>.ml{font-size:9.6px;color:#eeeef8;text-align:center;width:60px;letter-spacing:.2px;text-shadow:0 0 2px #223}</style>
<div class="t ml" style="left:434px;top:287px">$1000</div>
<div class="t ml" style="left:461px;top:337px">$2000</div>
<div class="t ml" style="left:548px;top:424px">$1000</div>
<div class="t ml" style="left:677px;top:301px">$2,000</div>
<div class="t ml" style="left:823px;top:353px">$2,000</div>
<div class="t ml" style="left:866px;top:456px">$0000</div>
<div class="h" id="h-map" style="left:614px;top:179px">Donor Locations</div>
<!-- /SECTION:MAP -->
<!-- SECTION:MONTH -->
<svg width="1360" height="752" viewBox="0 0 1360 752">
<defs><linearGradient id="ar" x1="0" y1="0" x2="0" y2="1"><stop offset="0" stop-color="#d266c6" stop-opacity=".82"/><stop offset=".5" stop-color="#a04cac" stop-opacity=".6"/><stop offset="1" stop-color="#5c3a88" stop-opacity=".22"/></linearGradient><linearGradient id="bar" x1="0" y1="0" x2="0" y2="1"><stop offset="0" stop-color="#f472c8"/><stop offset=".35" stop-color="#e66ccc"/><stop offset="1" stop-color="#b262d2"/></linearGradient></defs>
<path d="M1059 207H1318.6" stroke="#3a4672" stroke-width="1"/>
<path d="M1059 231.4H1318.6" stroke="#3a4672" stroke-width="1"/>
<path d="M1059 255.2H1318.6" stroke="#3a4672" stroke-width="1"/>
<path d="M1059 279H1318.6" stroke="#3a4672" stroke-width="1"/>
<path d="M1059 302.5H1318.6" stroke="#3a4672" stroke-width="1"/>
<path d="M1059 326.3H1318.6" stroke="#3a4672" stroke-width="1"/>
<path d="M1071.5 313.6L1097.4 268.7L1122.8 308.9L1148.7 292.1L1174.2 271.3L1200.6 278.1L1226.5 246.7L1253 235.5L1279.7 263L1305.6 229.3L1305.6 326.3L1071.5 326.3Z" fill="url(#ar)"/>
<path d="M1071.5 313.6L1097.4 268.7L1122.8 308.9L1148.7 292.1L1174.2 271.3L1200.6 278.1L1226.5 246.7L1253 235.5L1279.7 263L1305.6 229.3" fill="none" stroke="#e884dc" stroke-width="2" stroke-linejoin="round"/>
<circle cx="1071.5" cy="313.6" r="3.6" fill="#ea88dc"/>
<circle cx="1097.4" cy="268.7" r="3.6" fill="#ea88dc"/>
<circle cx="1122.8" cy="308.9" r="3.6" fill="#ea88dc"/>
<circle cx="1148.7" cy="292.1" r="3.6" fill="#ea88dc"/>
<circle cx="1174.2" cy="271.3" r="3.6" fill="#ea88dc"/>
<circle cx="1200.6" cy="278.1" r="3.6" fill="#ea88dc"/>
<circle cx="1226.5" cy="246.7" r="3.6" fill="#ea88dc"/>
<circle cx="1253" cy="235.5" r="3.6" fill="#ea88dc"/>
<circle cx="1279.7" cy="263" r="3.6" fill="#ea88dc"/>
<circle cx="1305.6" cy="229.3" r="3.6" fill="#ea88dc"/>
<path d="M1078 408.5H1318.6" stroke="#3a4672" stroke-width="1"/>
<path d="M1078 435.6H1318.6" stroke="#3a4672" stroke-width="1"/>
<path d="M1078 462.4H1318.6" stroke="#3a4672" stroke-width="1"/>
<path d="M1078 489H1318.6" stroke="#3a4672" stroke-width="1"/>
<path d="M1078 515.6H1318.6" stroke="#3a4672" stroke-width="1"/>
<rect x="1083.4" y="443.5" width="22" height="72.1" fill="url(#bar)"/>
<rect x="1117.9" y="481.4" width="22" height="34.2" fill="url(#bar)"/>
<rect x="1152.6" y="422.2" width="22" height="93.4" fill="url(#bar)"/>
<rect x="1187.1" y="465" width="22" height="50.6" fill="url(#bar)"/>
<rect x="1221.6" y="450.8" width="22" height="64.8" fill="url(#bar)"/>
<rect x="1256.1" y="464.3" width="22" height="51.3" fill="url(#bar)"/>
<rect x="1290.6" y="476.2" width="22" height="39.4" fill="url(#bar)"/>
</svg>
<style>.ax{font-size:11.5px;color:#e6e7f2}.pl{font-size:10.4px;color:#eeeef8;text-align:center;width:40px}.xl{font-size:11px;color:#e6e7f2;text-align:center;width:40px}.yl{text-align:right;width:50px}</style>
<div class="t ax yl" style="left:1000.5px;top:201.5px">500</div>
<div class="t ax yl" style="left:1000.5px;top:225.9px">400</div>
<div class="t ax yl" style="left:1000.5px;top:249.7px">300</div>
<div class="t ax yl" style="left:1000.5px;top:273.5px">200</div>
<div class="t ax yl" style="left:1000.5px;top:297.0px">100</div>
<div class="t ax yl" style="left:1000.5px;top:320.8px">0</div>
<div class="t pl" style="left:1051.5px;top:296.4px">546</div>
<div class="t pl" style="left:1077.4px;top:250.3px">2975</div>
<div class="t pl" style="left:1102.8px;top:291.8px">965</div>
<div class="t pl" style="left:1128.7px;top:274.1px">1115</div>
<div class="t pl" style="left:1154.2px;top:253.4px">2370</div>
<div class="t pl" style="left:1180.6px;top:260.6px">3171</div>
<div class="t pl" style="left:1206.5px;top:229.0px">3200</div>
<div class="t pl" style="left:1233.0px;top:217.1px">3464</div>
<div class="t pl" style="left:1259.7px;top:244.6px">3170</div>
<div class="t pl" style="left:1285.6px;top:211.4px">$290</div>
<div class="t xl" style="left:1051.5px;top:334.0px">Jan</div>
<div class="t xl" style="left:1077.4px;top:334.0px">Feb</div>
<div class="t xl" style="left:1102.8px;top:334.0px">Mar</div>
<div class="t xl" style="left:1128.7px;top:334.0px">Apr</div>
<div class="t xl" style="left:1154.2px;top:334.0px">May</div>
<div class="t xl" style="left:1180.6px;top:334.0px">Jun</div>
<div class="t xl" style="left:1206.5px;top:334.0px">Jul</div>
<div class="t xl" style="left:1233.0px;top:334.0px">Aug</div>
<div class="t xl" style="left:1259.7px;top:334.0px">Sep</div>
<div class="t xl" style="left:1285.6px;top:334.0px">Oct</div>
<div class="t ax yl" style="left:1017px;top:403.5px">$4,000</div>
<div class="t ax yl" style="left:1017px;top:430.6px">$3,000</div>
<div class="t ax yl" style="left:1017px;top:457.4px">$2,000</div>
<div class="t ax yl" style="left:1017px;top:484.0px">$1,000</div>
<div class="t ax yl" style="left:1017px;top:510.6px">$0</div>
<div class="t xl" style="left:1074.4px;top:524.4px;font-size:12px">Jan</div>
<div class="t xl" style="left:1108.9px;top:524.4px;font-size:12px">Feb</div>
<div class="t xl" style="left:1143.6px;top:524.4px;font-size:12px">Mar</div>
<div class="t xl" style="left:1178.1px;top:524.4px;font-size:12px">Apr</div>
<div class="t xl" style="left:1212.6px;top:524.4px;font-size:12px">May</div>
<div class="t xl" style="left:1247.1px;top:524.4px;font-size:12px">Jun</div>
<div class="t xl" style="left:1281.6px;top:524.4px;font-size:12px">Jul</div>
<div class="h" id="h-month" style="left:1066.5px;top:179px;transform:scaleX(.93)">Monthly Fundraising Trends</div>
<div class="h" id="h-recent" style="left:1069px;top:376px;transform:scaleX(.922)">Recent Large Contributions</div>
<!-- /SECTION:MONTH -->
<!-- SECTION:RECENT -->
<!-- SECTION:CAMP -->
<svg width="1360" height="752" viewBox="0 0 1360 752">
<defs>
<linearGradient id="gg1" gradientUnits="userSpaceOnUse" x1="63" y1="681" x2="205" y2="625"><stop offset="0" stop-color="#f472c8"/><stop offset=".4" stop-color="#e86eca"/><stop offset=".72" stop-color="#c46cd0"/><stop offset="1" stop-color="#a868d2"/></linearGradient>
<linearGradient id="gg2" gradientUnits="userSpaceOnUse" x1="293" y1="681" x2="442" y2="635"><stop offset="0" stop-color="#f472c8"/><stop offset=".4" stop-color="#e86eca"/><stop offset=".72" stop-color="#c46cd0"/><stop offset="1" stop-color="#a868d2"/></linearGradient>
<linearGradient id="hand" x1="0" y1="0" x2="1" y2="0"><stop offset="0" stop-color="#6c6eb6"/><stop offset=".45" stop-color="#8a6cc4"/><stop offset="1" stop-color="#b470d2"/></linearGradient>
<linearGradient id="pk" x1="0" y1="0" x2="1" y2="1"><stop offset="0" stop-color="#f47acc"/><stop offset="1" stop-color="#f06cc6"/></linearGradient>
</defs>
<path d="M201.4 627.9A79.3 79.3 0 0 1 222.3 681.6L201.8 681.6A58.8 58.8 0 0 0 186.3 641.8Z" fill="#3a4670"/><path d="M63.7 681.6A79.3 79.3 0 0 1 201.4 627.9L186.3 641.8A58.8 58.8 0 0 0 84.2 681.6Z" fill="url(#gg1)"/><path d="M183.4 643.6L149.5 681.1C146.3 683.9 142.1 684.3 139.7 681.5C137.3 678.7 138.3 674.7 141.5 671.9Z" fill="#f1f1f4"/>
<path d="M440.3 639.6A79.3 79.3 0 0 1 452.3 681.6L431.8 681.6A58.8 58.8 0 0 0 422.9 650.4Z" fill="#3a4670"/><path d="M293.7 681.6A79.3 79.3 0 0 1 440.3 639.6L422.9 650.4A58.8 58.8 0 0 0 314.2 681.6Z" fill="url(#gg2)"/><path d="M419.5 652.0L378.9 682.8C375.2 684.9 371.1 684.5 369.2 681.3C367.4 678.2 369.0 674.4 372.7 672.2Z" fill="#f1f1f4"/>
<g transform="translate(524,580) scale(0.18605)"><ellipse cx="208" cy="200" rx="60" ry="69" fill="#6e70b4"/><path d="M90 345C92 305 150 280 208 280C266 280 325 305 327 345C328 362 318 372 302 372H115C99 372 89 362 90 345Z" fill="#6e70b4"/><ellipse cx="515" cy="200" rx="62" ry="70" fill="url(#pk)"/><path d="M397 345C399 305 457 280 517 280C577 280 635 305 637 345C638 362 628 372 612 372H422C406 372 396 362 397 345Z" fill="url(#pk)"/><path d="M88 492L150 466C200 445 240 432 290 438C320 442 350 458 380 462L450 466C475 468 482 485 476 500C470 515 455 517 440 517L345 517C335 517 330 522 335 527C340 532 350 530 360 530L430 533C470 530 520 510 560 488C580 476 596 462 612 462C630 462 640 480 630 494C610 520 560 555 500 585C460 605 420 622 390 616C340 605 290 585 250 583C215 582 180 595 150 607Z" fill="url(#hand)"/></g>
<rect x="988" y="597.5" width="7" height="122" rx="3.5" fill="#1d254f"/><rect x="987.5" y="597.5" width="7.5" height="50" rx="3.7" fill="#6a6ec4"/>
<rect x="1311.8" y="598" width="7" height="121.5" rx="3.5" fill="#1d254f"/><rect x="1311.5" y="597.8" width="7.3" height="61" rx="3.6" fill="#6a6ec4"/>
<rect x="1081.2" y="597.8" width="2" height="33.5" fill="#b062c2"/>
<rect x="1081.2" y="641.9" width="2" height="32.5" fill="#b062c2"/>
<rect x="1081.2" y="684.9" width="2" height="33.1" fill="#b062c2"/>
</svg>
<style>
.gl{font-size:13px;color:#eeeef6;text-align:center;width:60px}
.gb{font-size:15px;font-weight:bold;color:#fff;text-align:center;width:120px}
.tf{font-size:15px;color:#f4f4fa}
.dw{font-size:10px;font-weight:bold;color:#c868ca;text-align:center;width:40px}
.dn{font-size:17px;font-weight:bold;color:#fff;text-align:center;width:40px}
.et{font-size:14.5px;color:#f6f6fb}
.es{font-size:10.15px;color:#a9acc9}
.nm{font-size:14.7px}
</style>
<div class="t gl" style="left:43.5px;top:688px">0</div><div class="t gl" style="left:182.5px;top:688px">1000</div>
<div class="t gl" style="left:273px;top:688px">0</div><div class="t gl" style="left:412.5px;top:688px">500</div>
<div class="t gb" id="g1" style="left:83px;top:702.3px;transform:scaleX(.945)">Campaign</div><div class="t gb" id="g2" style="left:312.6px;top:702.3px;font-size:15.3px">$20,000</div>
<div class="h" id="h-camp" style="left:176.3px;top:568px">Campaign Goal Progress</div>
<div class="h" id="h-top" style="left:783px;top:568px">Top Fundraisers</div>
<div class="h" id="h-up" style="left:1109px;top:568px">Upcoming Events</div>
<div class="t tf" style="left:685.5px;top:598.8px">1.</div><div class="t tf nm" style="left:718px;top:599.5px">Mark Flaherty</div><div class="t tf" style="right:386.7px;top:598.8px">$1300</div>
<div class="t tf" style="left:685.5px;top:625.3px">2.</div><div class="t tf nm" style="left:718px;top:626.0px">Jacka Smith</div><div class="t tf" style="right:386.7px;top:625.3px">$700</div>
<div class="t tf" style="left:685.5px;top:651.1px">3.</div><div class="t tf nm" style="left:718px;top:651.8px">Navish Javed</div><div class="t tf" style="right:386.7px;top:651.1px">$600</div>
<div class="t tf" style="left:685.5px;top:677.3px">4.</div><div class="t tf nm" style="left:718px;top:678.0px">Alieka Johnson</div><div class="t tf" style="right:386.7px;top:677.3px">$500</div>
<div class="t tf" style="left:685.5px;top:703.3px">5.</div><div class="t tf nm" style="left:718px;top:704.0px">Berion Reaenok</div><div class="t tf" style="right:386.7px;top:703.3px">$200</div>
<div class="t dw" style="left:1036.1px;top:600.0px">MEN</div><div class="t dn" style="left:1036.0px;top:613.7px">22</div>
<div class="t et" style="left:1096.1px;top:598.6px">TI Anniversary</div><div class="t es" style="left:1096.1px;top:618.4px">Mar 3 2021 - 6:00 pm</div>
<div class="t dw" style="left:1036.1px;top:644.0px">WED</div><div class="t dn" style="left:1036.0px;top:657.1px">23</div>
<div class="t et" style="left:1094.2px;top:642.6px">European Tour</div><div class="t es" style="left:1096.1px;top:661.8px">Mar 9 2021 - 7:00 pm</div>
<div class="t dw" style="left:1036.1px;top:687.8px">SAT</div><div class="t dn" style="left:1036.0px;top:701.1px">10</div>
<div class="t et" style="left:1095.6px;top:686.4px">Campaign Deadline</div><div class="t es" style="left:1096.1px;top:705.8px">Mar 8 2021 - 7:00 pm</div>
<!-- /SECTION:CAMP -->
<!-- SECTION:ICON -->
<!-- SECTION:TOP -->
<!-- SECTION:UP -->
</body></html>
